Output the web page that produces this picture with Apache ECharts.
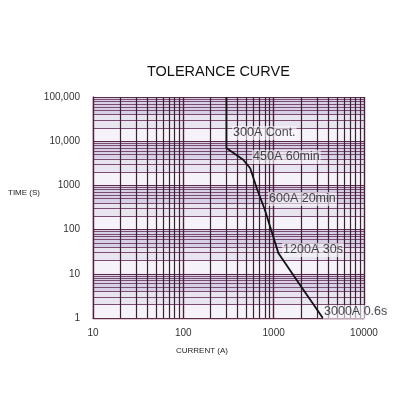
<!DOCTYPE html>
<html>
<head>
<meta charset="utf-8">
<script src="https://cdn.jsdelivr.net/npm/echarts@6/dist/echarts.min.js"></script>
<style>
  html, body { margin: 0; padding: 0; background: #fff; }
  #chart { width: 400px; height: 400px; }
</style>
</head>
<body>
<div id="chart"></div>
<script>
// curve (current in A, time in s)
const current = [300, 300, 460, 550, 650, 800, 1130, 1960, 3500];
const time = [100000, 7000, 3800, 2440, 860, 277, 29, 5.6, 1];

// annotations next to the curve
const noteText = ['300A Cont.', '450A 60min', '600A 20min', '1200A 30s', '3000A 0.6s'];
const noteCurrent = [346, 576, 866, 1240, 3520];
const noteTime = [15350, 4400, 492, 34.5, 1.37];

const xDecades = [10, 100, 1000, 10000];
const yDecades = [1, 10, 100, 1000, 10000, 100000];
const minorSteps = [2, 3, 4, 5, 6, 7, 8, 9];

const chartDom = document.getElementById('chart');
const myChart = echarts.init(chartDom);

// grid lines: majors + minors on both axes
const gridLines = [];
yDecades.forEach(function (d, i) {
  gridLines.push({ yAxis: d, lineStyle: { type: 'solid', color: '#5e2a4c', width: 1.2 } });
  if (i < yDecades.length - 1) {
    minorSteps.forEach(function (m) {
      gridLines.push({ yAxis: d * m, lineStyle: { type: 'solid', color: '#7c4c70', width: 1 } });
    });
  }
});
xDecades.forEach(function (d, i) {
  gridLines.push({ xAxis: d, lineStyle: { type: 'solid', color: '#4e1f3a', width: 1.4 } });
  if (i < xDecades.length - 1) {
    minorSteps.forEach(function (m) {
      gridLines.push({ xAxis: d * m, lineStyle: { type: 'solid', color: '#3a2030', width: 1.2 } });
    });
  }
});

// lavender bands inside each decade
const bands = [];
yDecades.slice(0, -1).forEach(function (d) {
  bands.push([{ yAxis: d * 4, itemStyle: { color: '#d6d1e6' } }, { yAxis: d * 10 }]);
  bands.push([{ yAxis: d * 2, itemStyle: { color: '#e8e5f1' } }, { yAxis: d * 4 }]);
});

const option = {
  animation: false,
  backgroundColor: '#fff',
  title: {
    text: 'TOLERANCE CURVE',
    left: 142,
    top: 59,
    textStyle: {
      fontFamily: 'Liberation Sans',
      fontSize: 14.5,
      fontWeight: 'normal',
      color: '#111',
    },
  },
  grid: {
    left: 93,
    right: 36,
    top: 97,
    bottom: 82,
  },
  xAxis: {
    type: 'log',
    logBase: 10,
    min: 10,
    max: 10000,
    axisLine: { show: true, lineStyle: { color: '#7a2a4a', width: 1.4 } },
    axisTick: { show: false },
    splitLine: { show: false },
    axisLabel: {
      margin: 10,
      fontFamily: 'Liberation Sans',
      fontSize: 10,
      color: '#333',
      formatter: function (v) { return String(v); },
    },
  },
  yAxis: {
    type: 'log',
    logBase: 10,
    min: 1,
    max: 100000,
    axisLine: { show: true, lineStyle: { color: '#7a2a4a', width: 1.4 } },
    axisTick: { show: false },
    splitLine: { show: false },
    axisLabel: {
      margin: 13,
      fontFamily: 'Liberation Sans',
      fontSize: 10,
      color: '#333',
      formatter: function (v) {
        return v >= 10000 ? v.toLocaleString('en-US') : String(v);
      },
    },
  },
  graphic: [
    {
      type: 'text',
      left: 8,
      top: 189,
      style: { text: 'TIME (S)', fontFamily: 'Liberation Sans', fontSize: 8, fill: '#222' },
    },
    {
      type: 'text',
      left: 176,
      top: 347,
      style: { text: 'CURRENT (A)', fontFamily: 'Liberation Sans', fontSize: 8, fill: '#222' },
    },
  ],
  series: [
    {
      name: 'background',
      type: 'line',
      data: [],
      silent: true,
      z: 1,
      markArea: {
        silent: true,
        data: [[{ yAxis: 1, itemStyle: { color: '#f5f3f9' } }, { yAxis: 100000 }]].concat(bands),
      },
      markLine: {
        silent: true,
        symbol: 'none',
        label: { show: false },
        data: gridLines,
      },
    },
    {
      name: 'curve',
      type: 'line',
      data: current.map(function (c, i) { return [c, time[i]]; }),
      symbol: 'none',
      z: 5,
      lineStyle: { color: '#111', width: 1.8 },
    },
    {
      name: 'notes',
      type: 'scatter',
      symbolSize: 0,
      z: 6,
      data: noteCurrent.map(function (c, i) { return [c, noteTime[i], noteText[i]]; }),
      label: {
        show: true,
        position: 'right',
        distance: 0,
        fontFamily: 'Liberation Sans',
        fontSize: 12.5,
        color: '#1a1a1a',
        backgroundColor: 'rgba(248,246,252,0.75)',
        padding: [1, 1, 0, 1],
        formatter: function (p) { return p.data[2]; },
      },
    },
  ],
};

myChart.setOption(option);

function resizeChart() {
  myChart.resize();
}
window.addEventListener('resize', resizeChart);
</script>
</body>
</html>
